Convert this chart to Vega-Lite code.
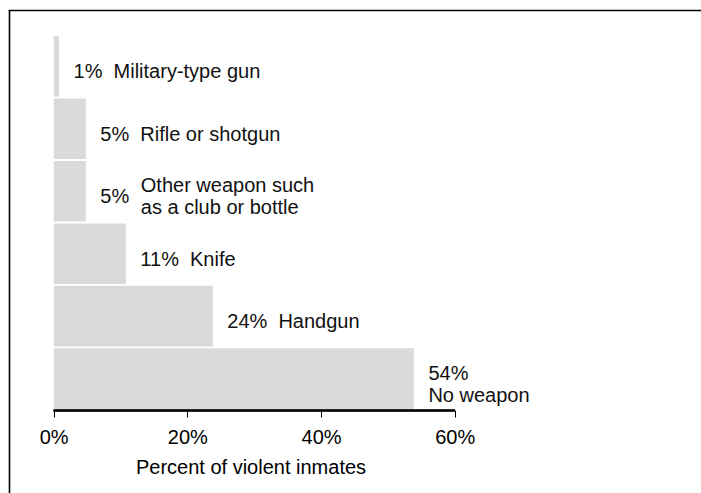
{
  "$schema": "https://vega.github.io/schema/vega-lite/v6.json",
  "autosize": {"type": "none"},
  "padding": {"left": 8, "top": 10, "right": 0, "bottom": 0},
  "width": 693,
  "height": 483,
  "background": "white",
  "config": {
    "view": {"stroke": null},
    "font": "Liberation Sans"
  },
  "data": {
    "values": [
      {"weapon": "Military", "pct": 0.8, "label": "1%\u00a0\u00a0Military-type gun", "label2": "", "label3": ""},
      {"weapon": "Rifle", "pct": 4.8, "label": "5%\u00a0\u00a0Rifle or shotgun", "label2": "", "label3": ""},
      {"weapon": "Other", "pct": 4.8, "label": "5%", "label2": "", "label3": "Other weapon such\nas a club or bottle"},
      {"weapon": "Knife", "pct": 10.8, "label": "11%\u00a0\u00a0Knife", "label2": "", "label3": ""},
      {"weapon": "Handgun", "pct": 23.8, "label": "24%\u00a0\u00a0Handgun", "label2": "", "label3": ""},
      {"weapon": "None", "pct": 53.9, "label": "", "label2": "54%\nNo weapon", "label3": ""}
    ]
  },
  "resolve": {"axis": {"x": "independent", "y": "independent"}},
  "layer": [
    {
      "mark": {"type": "bar", "color": "#dadada"},
      "encoding": {
        "y": {
          "field": "weapon", "type": "nominal", "sort": null,
          "scale": {"domain": ["Military", "Rifle", "Other", "Knife", "Handgun", "None"], "paddingInner": 0.03, "paddingOuter": 0.8815, "align": 0.2361},
          "axis": null
        },
        "x": {
          "field": "pct", "type": "quantitative",
          "scale": {"domain": [-6.838, 96.858], "nice": false, "zero": false},
          "axis": {
            "orient": "bottom",
            "values": [0, 20, 40, 60],
            "labelExpr": "datum.value + '%'",
            "domain": false,
            "grid": false,
            "ticks": true,
            "tickSize": 7,
            "tickColor": "#000",
            "tickWidth": 1,
            "labelFlush": false,
            "labelFont": "Liberation Sans",
            "labelFontSize": 20,
            "labelColor": "#000",
            "labelPadding": 10,
            "offset": -83,
            "title": "Percent of violent inmates",
            "titleFont": "Liberation Sans",
            "titleFontSize": 20,
            "titleFontWeight": "normal",
            "titleColor": "#000",
            "titleX": 242.5,
            "titleY": 63,
            "titleBaseline": "alphabetic"
          }
        }
      }
    },
    {
      "mark": {"type": "rule", "color": "#000", "strokeWidth": 1.5, "yOffset": 32},
      "encoding": {
        "x": {"datum": 0, "type": "quantitative", "axis": null},
        "x2": {"datum": 60},
        "y": {"datum": "None", "type": "nominal", "axis": null}
      }
    },
    {
      "mark": {"type": "text", "align": "left", "baseline": "middle", "dx": 14.5, "dy": 6, "fontSize": 20, "font": "Liberation Sans", "color": "#111"},
      "encoding": {
        "y": {"field": "weapon", "type": "nominal", "axis": null},
        "x": {
          "field": "pct", "type": "quantitative",
          "axis": {"orient": "top", "values": [-6.7], "domain": true, "domainColor": "#000", "domainWidth": 1.6, "labels": false, "ticks": false, "grid": true, "gridColor": "#000", "gridWidth": 1.6, "gridOpacity": 1, "title": null}
        },
        "text": {"field": "label"}
      }
    },
    {
      "mark": {"type": "text", "align": "left", "baseline": "middle", "dx": 14.5, "dy": -5, "fontSize": 20, "font": "Liberation Sans", "lineBreak": "\n", "lineHeight": 22, "color": "#111"},
      "encoding": {
        "y": {"field": "weapon", "type": "nominal", "axis": null},
        "x": {"field": "pct", "type": "quantitative", "axis": null},
        "text": {"field": "label2"}
      }
    },
    {
      "mark": {"type": "text", "align": "left", "baseline": "middle", "dx": 55, "dy": -5, "fontSize": 20, "font": "Liberation Sans", "lineBreak": "\n", "lineHeight": 22, "color": "#111"},
      "encoding": {
        "y": {"field": "weapon", "type": "nominal", "axis": null},
        "x": {"field": "pct", "type": "quantitative", "axis": null},
        "text": {"field": "label3"}
      }
    }
  ]
}
